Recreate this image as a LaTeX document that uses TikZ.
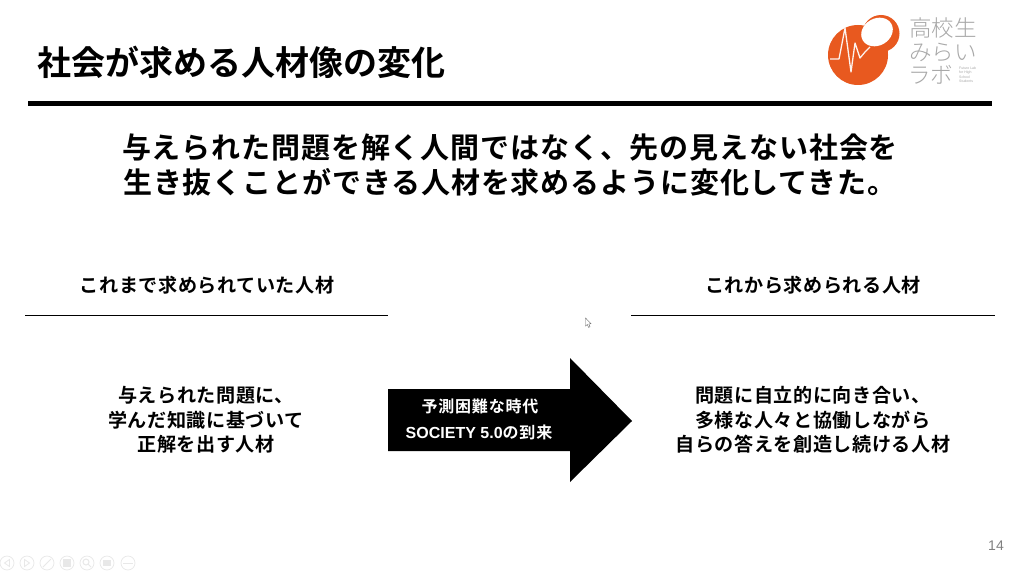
\documentclass[tikz,border=0pt]{standalone}
\usepackage{fontspec}
\setmainfont{Noto Sans CJK JP}[BoldFont={Noto Sans CJK JP Bold}]
\newfontfamily\jpbold{Noto Sans CJK JP Bold}[LetterSpace=3]
\newfontfamily\jpmed{Noto Sans CJK JP Bold}[LetterSpace=5]
\newfontfamily\jpthin{Noto Sans CJK JP Light}
\newfontfamily\lat{Liberation Sans}[BoldFont={Liberation Sans Bold}]
\definecolor{logoorange}{HTML}{E8591F}
\definecolor{logogray}{HTML}{A8A8A8}
\definecolor{navgray}{HTML}{E8E8E8}
\tikzset{
  txt/.style={inner sep=0pt,align=center,text=black,font=\jpbold\fontsize{19.1}{24.5}\selectfont},
  head/.style={txt,font=\jpbold\fontsize{29}{34.5}\selectfont},
  rule/.style={line width=0.9pt,black},
  navbtn/.style={circle,draw=navgray,line width=0.7pt,minimum size=14pt,inner sep=0pt},
  logotxt/.style={inner sep=0pt,text=logogray,font=\jpthin\fontsize{22.5}{22.5}\selectfont}
}
\begin{document}
\begin{tikzpicture}[x=1pt,y=-1pt]
\useasboundingbox (0,0) rectangle (1024,572);
\fill[white] (0,0) rectangle (1024,572);
% title
\node[inner sep=0pt,anchor=west,font=\bfseries\fontsize{34}{34}\selectfont] (title) at (37,62) {社会が求める人材像の変化};
\coordinate (ra) at (28,103.5); \coordinate (rb) at (992,103.5);
\draw[line width=5pt,black] (ra) -- (rb);
% headline
\node[head] (lead) at (510,165) {与えられた問題を解く人間ではなく、先の見えない社会を\\生き抜くことができる人材を求めるように変化してきた。};
% column heads
\node[txt] (lh) at (207,285) {これまで求められていた人材};
\node[txt] (rh) at (813,285) {これから求められる人材};
\coordinate (l1) at (25,315.5); \coordinate (l2) at (388,315.5);
\coordinate (r1) at (631,315.5); \coordinate (r2) at (995,315.5);
\draw[rule] (l1) -- (l2);
\draw[rule] (r1) -- (r2);
% bodies
\node[txt] (lb) at (206,420) {与えられた問題に、\\学んだ知識に基づいて\\正解を出す人材};
\node[txt] (rb2) at (813,420) {問題に自立的に向き合い、\\多様な人々と協働しながら\\自らの答えを創造し続ける人材};
% arrow
\fill[black] (388,389) -- (570,389) -- (570,358) -- (632,421) -- (570,482) -- (570,451) -- (388,451) -- cycle;
\node[inner sep=0pt,text=white,font=\jpmed\fontsize{16}{16}\selectfont] (a1) at (480,406) {予測困難な時代};
\node[inner sep=0pt,text=white,font=\jpmed\fontsize{16}{16}\selectfont] (a2) at (479,432) {{\lat\bfseries\fontsize{16}{16}\selectfont SOCIETY 5.0}の到来};
% logo
\fill[logoorange] (858,55) circle (30);
\fill[logoorange] (881,33.5) circle (18.5);
\fill[white,rotate around={30:(877,32)}] (877,32) ellipse (16.5 and 13.5);
\draw[white!92!logoorange,line width=1.3pt,line join=round] (830,59) -- (839,59) -- (845,28) -- (851,72) -- (855,43) -- (860,58) -- (865,52) -- (870,47);
\node[logotxt] (lg1) at (943,28) {高校生};
\node[logotxt] (lg2) at (943,52) {みらい};
\node[logotxt,anchor=west] (lg3) at (908,75) {ラボ};
\node[inner sep=0pt,anchor=west,align=left,text=logogray,font=\lat\fontsize{3.5}{4.5}\selectfont] (lg4) at (959,75) {Future Lab\\for High\\School\\Students};
% cursor
\draw[black!60,line width=0.4pt,fill=white] (585.5,318) -- (585.5,326) -- (587.3,324.5) -- (588.6,327.4) -- (590,326.8) -- (588.8,324) -- (591,323.7) -- cycle;
% page number
\node[inner sep=0pt,text=black!50,font=\lat\fontsize{14}{14}\selectfont] (pg) at (996,545.5) {14};
% nav buttons
\foreach \x/\n in {7/b1,27/b2,47/b3,67/b4,87/b5,107/b6,128/b7}{\node[navbtn] (\n) at (\x,563) {};}
\draw[navgray,line width=0.8pt] (9.5,559.5) -- (4.5,563) -- (9.5,566.5) -- cycle;
\draw[navgray,line width=0.8pt] (24.5,559.5) -- (29.5,563) -- (24.5,566.5) -- cycle;
\draw[navgray,line width=1pt] (43,567) -- (51,559);
\fill[navgray] (63,559) rectangle (71,567);
\draw[navgray,line width=1pt] (86,562) circle (3) (88,564) -- (91,567);
\fill[navgray] (103,560) rectangle (111,566);
\draw[navgray,line width=1pt] (123,563) -- (133,563);
\end{tikzpicture}
\end{document}
